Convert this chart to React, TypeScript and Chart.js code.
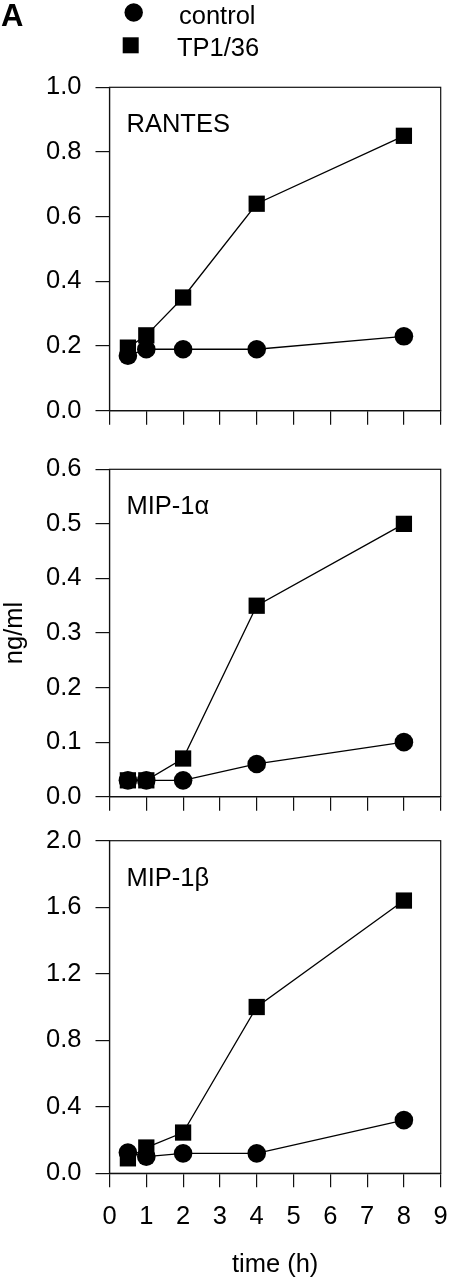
import React, { useEffect, useRef } from "react";
import { Chart, registerables } from "chart.js";

Chart.register(...registerables);

// ---- data ----
const hours = [0.5, 1, 2, 4, 8];
const seriesNames = ["control", "TP1/36"];
const panelNames = ["RANTES", "MIP-1α", "MIP-1β"];
const rantesControl = [0.17, 0.19, 0.19, 0.19, 0.23];
const rantesTP = [0.195, 0.233, 0.35, 0.64, 0.85];
const mip1aControl = [0.03, 0.03, 0.03, 0.06, 0.1];
const mip1aTP = [0.03, 0.03, 0.07, 0.35, 0.5];
const mip1bControl = [0.125, 0.1, 0.12, 0.12, 0.32];
const mip1bTP = [0.09, 0.155, 0.245, 1.0, 1.64];
const xTickMax = 9;
const yMaxes = [1.0, 0.6, 2.0];
const ySteps = [0.2, 0.1, 0.4];
const xTitle = "time (h)";
const yTitle = "ng/ml";
const panelLetter = "A";

const controlSeries = [rantesControl, mip1aControl, mip1bControl];
const tpSeries = [rantesTP, mip1aTP, mip1bTP];

// ---- layout ----
const FONT = "'Liberation Sans', Arial, Helvetica, sans-serif";
const FS = 25.5;
const W = 449;
const PLOT_LEFT = 109.5;
const PLOT_RIGHT = 440.7;
const panelsLayout = [
  { canvasTop: 0, canvasH: 440, plotTop: 87.3, plotBottom: 419 },
  { canvasTop: 440, canvasH: 400, plotTop: 464.3, plotBottom: 796.7 },
  { canvasTop: 800, canvasH: 480, plotTop: 840.7, plotBottom: 1173.3 },
];

const framePlugin = {
  id: "frameLabel",
  beforeDatasetsDraw(chart: any, _args: any, opts: any) {
    const { ctx, chartArea: a } = chart;
    ctx.save();
    ctx.strokeStyle = "#111";
    ctx.lineWidth = 1.2;
    ctx.strokeRect(a.left, a.top, a.right - a.left, a.bottom - a.top);
    ctx.fillStyle = "#000";
    ctx.font = `${FS}px ${FONT}`;
    ctx.textAlign = "left";
    ctx.textBaseline = "alphabetic";
    ctx.fillText(opts.label, a.left + 17, a.top + 45);
    ctx.restore();
  },
};

const legendPlugin = {
  id: "customLegend",
  afterDraw(chart: any, _args: any, opts: any) {
    if (!opts.show) return;
    const { ctx } = chart;
    ctx.save();
    ctx.fillStyle = "#000";
    ctx.font = `bold 31px ${FONT}`;
    ctx.textAlign = "left";
    ctx.textBaseline = "alphabetic";
    ctx.fillText(panelLetter, 1, 26);
    const ds = chart.data.datasets;
    // control (circle)
    ctx.fillStyle = ds[0].backgroundColor;
    ctx.beginPath();
    ctx.arc(133.7, 12.5, 9.2, 0, Math.PI * 2);
    ctx.fill();
    // TP1/36 (square)
    ctx.fillStyle = ds[1].backgroundColor;
    ctx.fillRect(122.7, 37.3, 16, 16);
    ctx.fillStyle = "#000";
    ctx.font = `${FS}px ${FONT}`;
    ctx.fillText(ds[0].label, 179, 23.5);
    ctx.fillText(ds[1].label, 177, 56);
    ctx.restore();
  },
};

function Panel({ index }: { index: number }) {
  const ref = useRef<HTMLCanvasElement | null>(null);
  const L = panelsLayout[index];
  const isLast = index === panelsLayout.length - 1;

  useEffect(() => {
    if (!ref.current) return;
    const xAxisH = L.canvasTop + L.canvasH - L.plotBottom;
    const makeData = (arr: number[]) => hours.map((h, i) => ({ x: h, y: arr[i] }));
    const chart = new Chart(ref.current, {
      type: "line",
      data: {
        datasets: [
          {
            label: seriesNames[0],
            data: makeData(controlSeries[index]),
            borderColor: "#000",
            backgroundColor: "#000",
            borderWidth: 1.3,
            pointStyle: "circle",
            pointRadius: 9.3,
            pointBorderWidth: 0,
            pointBackgroundColor: "#000",
            tension: 0,
          },
          {
            label: seriesNames[1],
            data: makeData(tpSeries[index]),
            borderColor: "#000",
            backgroundColor: "#000",
            borderWidth: 1.3,
            pointStyle: "rect",
            pointRadius: 11.5,
            pointBorderWidth: 0,
            pointBackgroundColor: "#000",
            tension: 0,
          },
        ],
      },
      options: {
        animation: false,
        responsive: false,
        devicePixelRatio: 1,
        clip: false as any,
        layout: {
          autoPadding: false,
          padding: {
            top: L.plotTop - L.canvasTop,
            right: W - PLOT_RIGHT,
            left: 0,
            bottom: 0,
          },
        },
        plugins: {
          legend: { display: false },
          tooltip: { enabled: false },
          frameLabel: { label: panelNames[index] },
          customLegend: { show: index === 0 },
        } as any,
        scales: {
          x: {
            type: "linear",
            min: 0,
            max: xTickMax,
            afterFit: (s: any) => {
              s.height = xAxisH;
              s.paddingLeft = 0;
              s.paddingRight = 0;
            },
            border: { display: true, color: "#111", width: 1.2 },
            grid: {
              drawOnChartArea: false,
              drawTicks: true,
              tickLength: 14,
              color: "#111",
              lineWidth: 1.2,
            },
            ticks: {
              display: isLast,
              stepSize: 1,
              autoSkip: false,
              maxRotation: 0,
              padding: 14,
              color: "#000",
              font: { family: FONT, size: FS },
            },
            title: {
              display: isLast,
              text: xTitle,
              color: "#000",
              font: { family: FONT, size: FS },
              padding: { top: 0, bottom: 0 },
            },
          },
          y: {
            type: "linear",
            min: 0,
            max: yMaxes[index],
            afterFit: (s: any) => {
              s.width = PLOT_LEFT;
            },
            border: { display: true, color: "#111", width: 1.2 },
            grid: {
              drawOnChartArea: false,
              drawTicks: true,
              tickLength: 14,
              color: "#111",
              lineWidth: 1.2,
            },
            ticks: {
              stepSize: ySteps[index],
              padding: 14,
              color: "#000",
              font: { family: FONT, size: FS },
              callback: (v: any) => Number(v).toFixed(1),
            },
            title: {
              display: index === 1,
              text: yTitle,
              color: "#000",
              font: { family: FONT, size: FS },
              padding: 0,
            },
          },
        },
      },
      plugins: [framePlugin, legendPlugin],
    } as any);
    return () => chart.destroy();
  }, [index]);

  return (
    <canvas
      ref={ref}
      width={W}
      height={L.canvasH}
      style={{
        position: "absolute",
        left: 0,
        top: L.canvasTop,
        width: W,
        height: L.canvasH,
      }}
    />
  );
}

export default function App() {
  return (
    <div
      style={{
        position: "absolute",
        left: 0,
        top: 0,
        width: W,
        height: 1280,
        background: "#fff",
        overflow: "hidden",
      }}
    >
      {panelsLayout.map((_, i) => (
        <Panel key={i} index={i} />
      ))}
    </div>
  );
}
